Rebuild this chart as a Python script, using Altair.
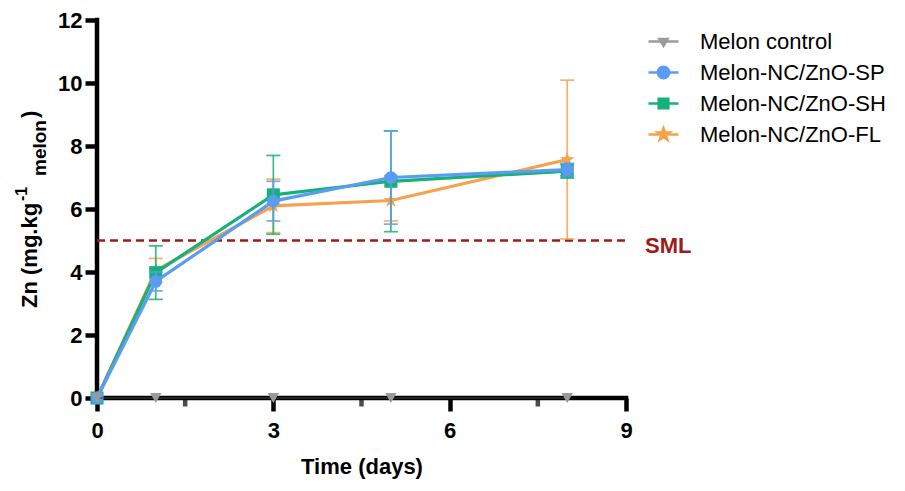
import altair as alt
import pandas as pd

# ---------------- data ----------------
days = [0, 1, 3, 5, 8]
series_names = ["Melon control", "Melon-NC/ZnO-SP", "Melon-NC/ZnO-SH", "Melon-NC/ZnO-FL"]
control_mean = [0, 0, 0, 0, 0]
control_sd = [0, 0, 0, 0, 0]
sp_mean = [0, 3.70, 6.25, 7.00, 7.25]
sp_sd = [0, 0.30, 0.63, 1.48, 0.20]
sh_mean = [0, 3.98, 6.45, 6.88, 7.20]
sh_sd = [0, 0.85, 1.25, 1.60, 0.22]
fl_mean = [0, 4.05, 6.10, 6.27, 7.57]
fl_sd = [0, 0.38, 0.85, 0.65, 2.52]
sml_value = [5]
sml_label = ["SML"]
x_ticks = [0, 3, 6, 9]
x_minor_ticks = [1.5, 4.5, 7.5]
y_ticks = [0, 2, 4, 6, 8, 10, 12]

# ---------------- styles ----------------
colors = ["#9a9a9a", "#5b9cf3", "#17b07a", "#f6a24c"]
sml_color = "#9e1b1b"
FONT = "Liberation Sans"
STAR = ("M0,-1L0.235,-0.324L0.951,-0.309L0.380,0.124L0.588,0.809L0,0.4"
        "L-0.588,0.809L-0.380,0.124L-0.951,-0.309L-0.235,-0.324Z")
marker_shapes = ["triangle-down", "circle", "square", STAR]
marker_sizes = [130, 160, 170, 230]
legend_paths = [
    "M-1,0H1M-0.27,-0.17L0.27,-0.17L0,0.28Z",
    "M-1,0H1M0.38,0A0.38,0.38,0,1,1,-0.38,0A0.38,0.38,0,1,1,0.38,0Z",
    "M-1,0H1M-0.32,-0.32H0.32V0.32H-0.32Z",
    "M-1,0H1M0,-0.42L0.099,-0.136L0.4,-0.13L0.16,0.052L0.247,0.34L0,0.168"
    "L-0.247,0.34L-0.16,0.052L-0.4,-0.13L-0.099,-0.136Z",
]

means = [control_mean, sp_mean, sh_mean, fl_mean]
sds = [control_sd, sp_sd, sh_sd, fl_sd]
rows = []
for name, m, s in zip(series_names, means, sds):
    for d, mv, sv in zip(days, m, s):
        rows.append({"series": name, "day": d, "mean": mv, "sd": sv,
                     "lo": mv - sv, "hi": mv + sv})
df = pd.DataFrame(rows)

xs = alt.Scale(domain=[0, 9], nice=False, zero=False)
ys = alt.Scale(domain=[0, 12], nice=False, zero=False)
common_axis = dict(labelFont=FONT, labelFontWeight="bold", labelFontSize=22,
                   labelColor="black", tickColor="black", domain=False,
                   tickWidth=4.5, grid=False, labelFlush=False, labelOverlap=False)
x_axis = alt.Axis(values=x_ticks, format="d", tickSize=13, labelPadding=9,
                  title="Time (days)", titlePadding=15, titleFont=FONT,
                  titleFontWeight="bold", titleFontSize=22, titleColor="black",
                  **common_axis)
y_axis = alt.Axis(values=y_ticks, format="d", tickSize=12, labelPadding=3,
                  **common_axis)


def X(field="day"):
    return alt.X(field, type="quantitative", scale=xs, axis=x_axis)


def Y(field="mean"):
    return alt.Y(field, type="quantitative", scale=ys, axis=y_axis, title=None)


layers = []

# axis lines (thick, GraphPad style)
xline_df = pd.DataFrame({"day": [x_ticks[0]], "day2": [x_ticks[-1]], "mean": [y_ticks[0]]})
yline_df = pd.DataFrame({"day": [x_ticks[0]], "mean": [y_ticks[0]], "mean2": [y_ticks[-1]]})
layers.append(alt.Chart(xline_df).mark_rule(color="black", strokeWidth=4.5,
                                            strokeCap="square").encode(
    x=X(), x2="day2:Q", y=Y()))
layers.append(alt.Chart(yline_df).mark_rule(color="black", strokeWidth=4.5,
                                            strokeCap="square").encode(
    x=X(), y=Y(), y2="mean2:Q"))

# SML line
sml_df = pd.DataFrame({"day": [x_ticks[0]], "day2": [x_ticks[-1]], "mean": sml_value,
                       "label": sml_label})
layers.append(alt.Chart(sml_df).mark_rule(color=sml_color, strokeWidth=2.5,
                                          strokeDash=[8, 5]).encode(
    x=X(), x2="day2:Q", y=Y()))
layers.append(alt.Chart(sml_df).mark_text(
    color=sml_color, font=FONT, fontSize=22, fontWeight="bold", align="left",
    baseline="middle", dx=19, dy=5).encode(
    x=alt.X("day2", type="quantitative", scale=xs, axis=x_axis), y=Y(), text="label:N"))

# minor x ticks
minor_df = pd.DataFrame({"day": x_minor_ticks, "mean": [0] * len(x_minor_ticks)})
layers.append(alt.Chart(minor_df).mark_tick(color="black", orient="vertical", size=9,
                                            thickness=4.5, yOffset=4).encode(
    x=X(), y=Y()))

# series in drawing order: FL, SH, SP, control
for idx in [3, 2, 1, 0]:
    name, color = series_names[idx], colors[idx]
    base = alt.Chart(df).transform_filter(alt.datum.series == name)
    err = base.transform_filter(alt.datum.sd > 0)
    layers.append(err.mark_rule(color=color, strokeWidth=1.7, opacity=0.85).encode(
        x=X(), y=Y("lo"), y2="hi:Q"))
    layers.append(err.mark_tick(color=color, orient="horizontal", size=14,
                                thickness=1.7, opacity=0.85).encode(x=X(), y=Y("hi")))
    layers.append(err.mark_tick(color=color, orient="horizontal", size=14,
                                thickness=1.7, opacity=0.85).encode(x=X(), y=Y("lo")))
    layers.append(base.mark_line(color=color if idx else "#444444",
                                 strokeWidth=3.2 if idx else 1.2).encode(
        x=X(), y=Y(), order="day:Q"))
    layers.append(base.mark_point(filled=True, color=color, opacity=1,
                                  shape=marker_shapes[idx],
                                  size=marker_sizes[idx]).encode(x=X(), y=Y()))

# legend layer (invisible marks, visible legend)
leg_df = pd.DataFrame({"series": series_names, "day": [0] * 4, "mean": [0] * 4})
layers.append(alt.Chart(leg_df).mark_point(filled=True, opacity=0).encode(
    x=X(), y=Y(),
    fill=alt.Fill("series:N", scale=alt.Scale(domain=series_names, range=colors), title=None),
    stroke=alt.Stroke("series:N", scale=alt.Scale(domain=series_names, range=colors), title=None),
    shape=alt.Shape("series:N", scale=alt.Scale(domain=series_names, range=legend_paths), title=None),
))

# y-axis title with superscript and subscript
title_parts = [("Zn (mg.kg", 22, -60, 288), ("-1", 16, -70, 181),
               ("melon", 19, -51, 156), (")", 22, -60, 98)]
for txt, fs, px, py in title_parts:
    layers.append(alt.Chart(pd.DataFrame({"t": [txt]})).mark_text(
        font=FONT, fontSize=fs, fontWeight="bold", angle=270, align="left",
        baseline="alphabetic", color="black").encode(
        text="t:N", x=alt.value(px), y=alt.value(py)))

chart = alt.layer(*layers).properties(
    width=529, height=378,
    padding={"left": 89, "top": 12, "right": 271, "bottom": 85},
    autosize=alt.AutoSizeParams(type="none"),
).configure_view(stroke=None).configure_legend(
    orient="none", legendX=550, legendY=5, padding=0,
    labelFont=FONT, labelFontSize=22, labelColor="black", labelOffset=20,
    labelLimit=400, symbolSize=900, symbolStrokeWidth=2.5, symbolOpacity=1,
    rowPadding=3,
)

chart.save("out.html", embed_options={"renderer": "svg", "actions": False})
